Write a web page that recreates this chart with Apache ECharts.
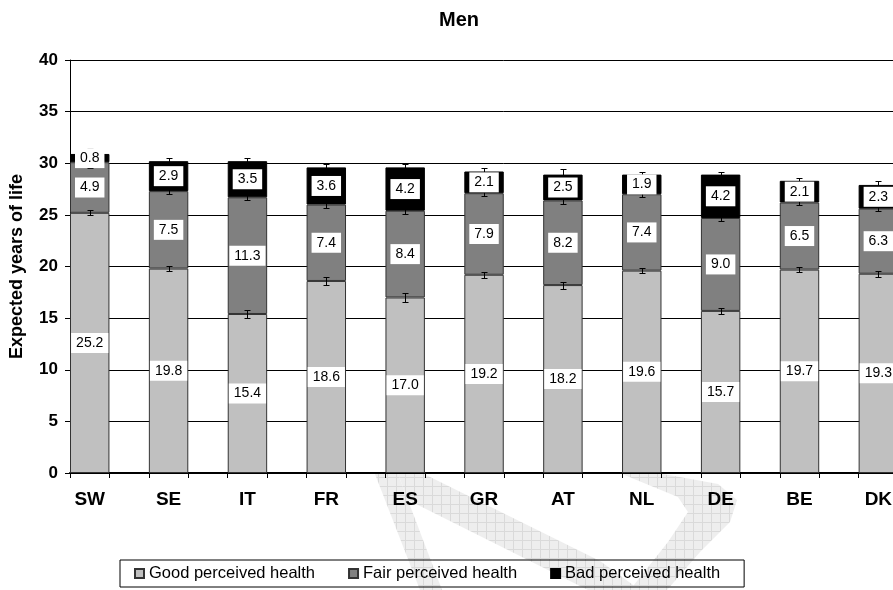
<!DOCTYPE html>
<html>
<head>
<meta charset="utf-8">
<script src="https://cdn.jsdelivr.net/npm/echarts@6/dist/echarts.min.js"></script>
<style>
  html, body { margin: 0; padding: 0; background: #fff; overflow: hidden; }
  #chart { width: 940px; height: 590px; }
</style>
</head>
<body>
<div id="chart"></div>
<script>
// Healthy life expectancy at 50, men: years spent in each perceived-health state
const countries  = ['SW', 'SE', 'IT', 'FR', 'ES', 'GR', 'AT', 'NL', 'DE', 'BE', 'DK'];
const goodHealth = [25.2, 19.8, 15.4, 18.6, 17.0, 19.2, 18.2, 19.6, 15.7, 19.7, 19.3];
const fairHealth = [4.9, 7.5, 11.3, 7.4, 8.4, 7.9, 8.2, 7.4, 9.0, 6.5, 6.3];
const badHealth  = [0.8, 2.9, 3.5, 3.6, 4.2, 2.1, 2.5, 1.9, 4.2, 2.1, 2.3];
// half-width of the confidence interval at the top of each segment
const goodErr = [0.23, 0.23, 0.42, 0.42, 0.40, 0.30, 0.34, 0.26, 0.32, 0.23, 0.27];
const fairErr = [0.60, 0.23, 0.29, 0.29, 0.28, 0.25, 0.30, 0.27, 0.27, 0.20, 0.26];
const badErr  = [0.60, 0.29, 0.30, 0.36, 0.30, 0.30, 0.50, 0.27, 0.30, 0.23, 0.40];
const seriesNames = ['Good perceived health', 'Fair perceived health', 'Bad perceived health'];

const FONT = 'Liberation Sans, Arial, sans-serif';

// every country is followed by an empty slot, so each bar fills the left half of its band
const slots = [];
countries.forEach(c => slots.push(c, ''));
const spread = arr => {
  const out = [];
  arr.forEach(v => out.push(v, '-'));
  return out;
};

// whisker positions: top of each stacked segment
const errData = [];
countries.forEach((c, i) => {
  const g = goodHealth[i], f = fairHealth[i], b = badHealth[i];
  errData.push([2 * i, g, goodErr[i]]);
  errData.push([2 * i, g + f, fairErr[i]]);
  errData.push([2 * i, g + f + b, badErr[i]]);
});

const fills = ['#c0c0c0', '#808080', '#000000'];
const borders = ['#333333', '#333333', '#000000'];
const values = [goodHealth, fairHealth, badHealth];

const barSeries = values.map((arr, k) => ({
  name: seriesNames[k],
  type: 'bar',
  stack: 'years',
  barWidth: '100%',
  barGap: '-100%',
  data: spread(arr),
  itemStyle: { color: fills[k], borderColor: borders[k], borderWidth: 1 },
  label: { show: false },
  z: 2
}));

// transparent copies carrying the value boxes, drawn above the whiskers
const labelSeries = values.map((arr, k) => ({
  name: 'lbl' + k,
  type: 'bar',
  stack: 'labels',
  barWidth: '100%',
  barGap: '-100%',
  silent: true,
  data: spread(arr),
  itemStyle: { color: 'rgba(0,0,0,0)', borderWidth: 0 },
  label: {
    show: true,
    position: 'inside',
    formatter: p => Number(p.value).toFixed(1),
    color: '#000',
    fontFamily: FONT,
    fontSize: 14,
    backgroundColor: '#fff',
    padding: [3, 5, 3, 5]
  },
  z: 5
}));

const errSeries = {
  name: 'ci',
  type: 'custom',
  z: 4,
  silent: true,
  data: errData,
  renderItem(params, api) {
    const x = api.value(0), y = api.value(1), e = api.value(2);
    const cx = Math.round(api.coord([x, y])[0]) + 0.5;
    const yt = Math.round(api.coord([x, y + e])[1]) + 0.5;
    const yb = Math.round(api.coord([x, y - e])[1]) + 0.5;
    const w = 3;
    const st = { stroke: '#000', lineWidth: 1 };
    return {
      type: 'group',
      children: [
        { type: 'line', shape: { x1: cx, y1: yt, x2: cx, y2: yb }, style: st },
        { type: 'line', shape: { x1: cx - w, y1: yt, x2: cx + w, y2: yt }, style: st },
        { type: 'line', shape: { x1: cx - w, y1: yb, x2: cx + w, y2: yb }, style: st }
      ]
    };
  }
};

// faint cross-hatched fill for the background stamp
const tile = document.createElement('canvas');
tile.width = 9; tile.height = 9;
const tctx = tile.getContext('2d');
tctx.fillStyle = '#eeeeee';
tctx.fillRect(0, 0, 9, 9);
tctx.fillStyle = '#dadada';
tctx.fillRect(0, 0, 9, 1);
tctx.fillRect(0, 0, 1, 9);
const mark = { image: tile, repeat: 'repeat' };

const option = {
  backgroundColor: '#fff',
  animation: false,
  title: {
    text: 'Men',
    left: 434,
    top: 5,
    textStyle: { fontFamily: FONT, fontSize: 20, fontWeight: 'bold', color: '#000' }
  },
  legend: {
    data: seriesNames,
    left: 120,
    top: 560,
    orient: 'horizontal',
    itemWidth: 9,
    itemHeight: 9,
    itemGap: 33,
    padding: [5, 24, 5, 14],
    borderColor: '#000',
    borderWidth: 1,
    textStyle: { fontFamily: FONT, fontSize: 16.5, color: '#000' },
    icon: 'rect'
  },
  grid: { left: 67.5, top: 60, width: 870, height: 413, containLabel: false },
  xAxis: {
    type: 'category',
    data: slots,
    axisLine: { show: true, lineStyle: { color: '#000', width: 2 } },
    axisTick: { show: true, interval: 0, length: 5, lineStyle: { color: '#000' } },
    axisLabel: { interval: 0, fontFamily: FONT, fontWeight: 'bold', fontSize: 19, color: '#000', margin: 17 },
    splitLine: { show: false }
  },
  yAxis: {
    type: 'value',
    min: 0,
    max: 40,
    interval: 5,
    name: 'Expected years of life',
    nameLocation: 'middle',
    nameGap: 44,
    nameTextStyle: { fontFamily: FONT, fontWeight: 'bold', fontSize: 18, color: '#000' },
    axisLine: { show: true, lineStyle: { color: '#000', width: 1 } },
    axisTick: { show: true, length: 5, lineStyle: { color: '#000' } },
    axisLabel: { fontFamily: FONT, fontWeight: 'bold', fontSize: 17, color: '#000', margin: 12 },
    splitLine: { show: true, lineStyle: { color: '#000', width: 1 } }
  },
  graphic: [
    { type: 'polygon', z: -10, silent: true,
      shape: { points: [[375, 474], [398, 474], [442, 590], [420, 590]] }, style: { fill: mark } },
    { type: 'polygon', z: -10, silent: true,
      shape: { points: [[398, 474], [424, 474], [600, 561], [640, 590], [588, 590], [408, 500]] }, style: { fill: mark } },
    { type: 'polygon', z: -10, silent: true,
      shape: { points: [[622, 474], [663, 474], [718, 484], [737, 500], [730, 522], [700, 552], [667, 590], [630, 590], [668, 542], [688, 512], [678, 497]] },
      style: { fill: mark } }
  ],
  series: [...barSeries, errSeries, ...labelSeries]
};

const chart = echarts.init(document.getElementById('chart'), null, { renderer: 'canvas' });
chart.setOption(option);
</script>
</body>
</html>
